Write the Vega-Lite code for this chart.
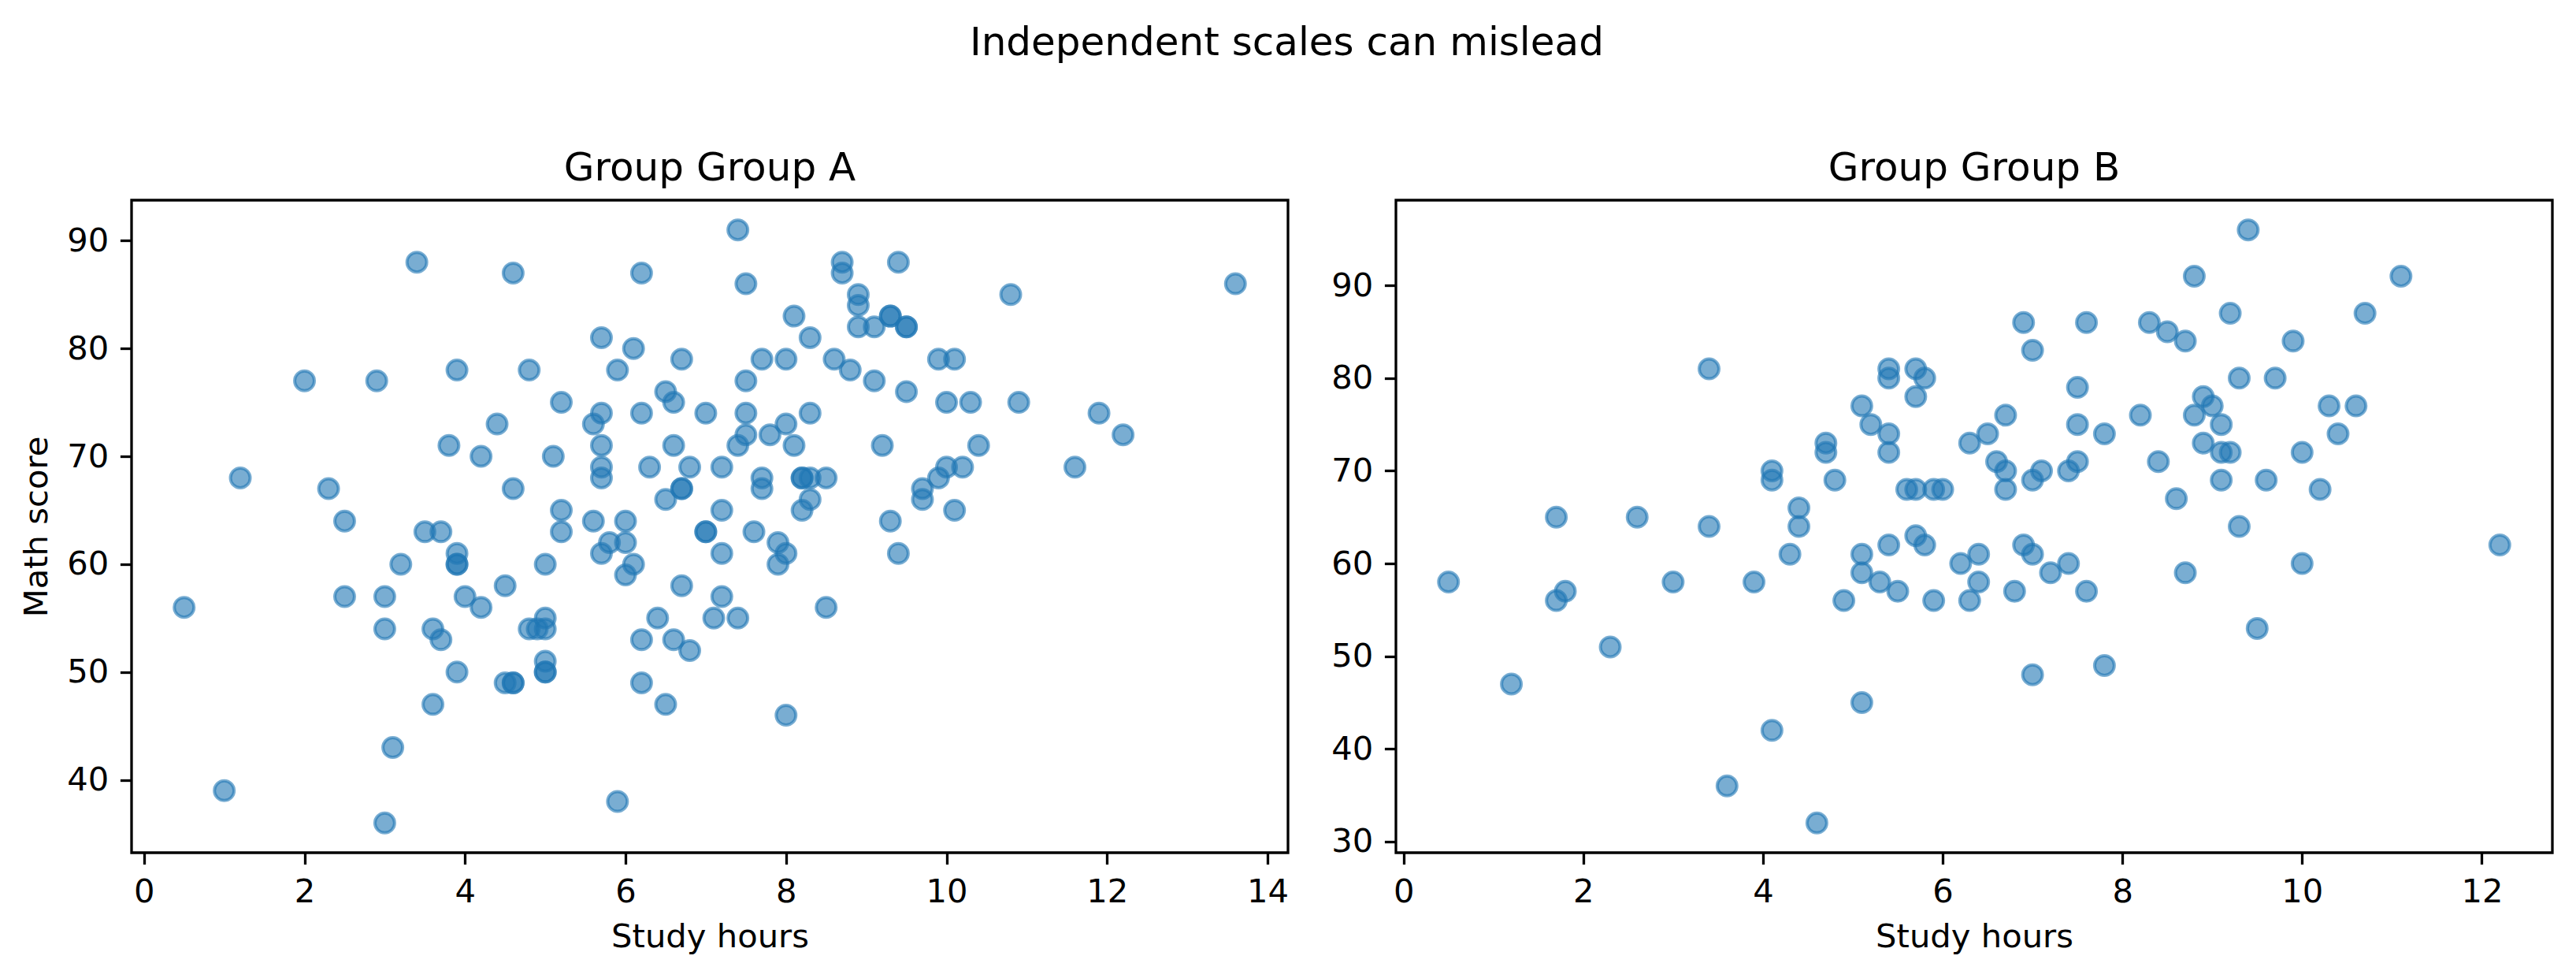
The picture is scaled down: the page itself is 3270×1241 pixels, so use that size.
{
  "$schema": "https://vega.github.io/schema/vega-lite/v6.json",
  "padding": {"left": 25, "top": 30, "right": 24, "bottom": 20},
  "background": "white",
  "title": {"text": "Independent scales can mislead", "anchor": "middle", "frame": "bounds", "offset": 67, "baseline": "alphabetic"},
  "data": {
    "values": [
      {"group": "Group A", "hours": 3.4, "score": 88}, {"group": "Group A", "hours": 4.6, "score": 87}, {"group": "Group A", "hours": 6.2, "score": 87},
      {"group": "Group A", "hours": 5.7, "score": 81}, {"group": "Group A", "hours": 6.1, "score": 80}, {"group": "Group A", "hours": 6.7, "score": 79},
      {"group": "Group A", "hours": 2.0, "score": 77}, {"group": "Group A", "hours": 2.9, "score": 77}, {"group": "Group A", "hours": 3.9, "score": 78},
      {"group": "Group A", "hours": 4.8, "score": 78}, {"group": "Group A", "hours": 5.9, "score": 78}, {"group": "Group A", "hours": 6.5, "score": 76},
      {"group": "Group A", "hours": 6.6, "score": 75}, {"group": "Group A", "hours": 5.2, "score": 75}, {"group": "Group A", "hours": 5.7, "score": 74},
      {"group": "Group A", "hours": 5.6, "score": 73}, {"group": "Group A", "hours": 6.2, "score": 74}, {"group": "Group A", "hours": 7.0, "score": 74},
      {"group": "Group A", "hours": 4.4, "score": 73}, {"group": "Group A", "hours": 3.8, "score": 71}, {"group": "Group A", "hours": 4.2, "score": 70},
      {"group": "Group A", "hours": 5.1, "score": 70}, {"group": "Group A", "hours": 5.7, "score": 71}, {"group": "Group A", "hours": 6.6, "score": 71},
      {"group": "Group A", "hours": 5.7, "score": 69}, {"group": "Group A", "hours": 5.7, "score": 68}, {"group": "Group A", "hours": 6.3, "score": 69},
      {"group": "Group A", "hours": 6.8, "score": 69}, {"group": "Group A", "hours": 6.7, "score": 67}, {"group": "Group A", "hours": 6.7, "score": 67},
      {"group": "Group A", "hours": 6.5, "score": 66}, {"group": "Group A", "hours": 1.2, "score": 68}, {"group": "Group A", "hours": 2.3, "score": 67},
      {"group": "Group A", "hours": 4.6, "score": 67}, {"group": "Group A", "hours": 2.5, "score": 64}, {"group": "Group A", "hours": 5.2, "score": 65},
      {"group": "Group A", "hours": 5.6, "score": 64}, {"group": "Group A", "hours": 6.0, "score": 64}, {"group": "Group A", "hours": 3.5, "score": 63},
      {"group": "Group A", "hours": 3.7, "score": 63}, {"group": "Group A", "hours": 5.2, "score": 63}, {"group": "Group A", "hours": 7.0, "score": 63},
      {"group": "Group A", "hours": 7.0, "score": 63}, {"group": "Group A", "hours": 5.8, "score": 62}, {"group": "Group A", "hours": 6.0, "score": 62},
      {"group": "Group A", "hours": 5.7, "score": 61}, {"group": "Group A", "hours": 3.9, "score": 61}, {"group": "Group A", "hours": 3.9, "score": 60},
      {"group": "Group A", "hours": 3.9, "score": 60}, {"group": "Group A", "hours": 3.2, "score": 60}, {"group": "Group A", "hours": 5.0, "score": 60},
      {"group": "Group A", "hours": 6.1, "score": 60}, {"group": "Group A", "hours": 6.0, "score": 59}, {"group": "Group A", "hours": 6.7, "score": 58},
      {"group": "Group A", "hours": 4.5, "score": 58}, {"group": "Group A", "hours": 2.5, "score": 57}, {"group": "Group A", "hours": 3.0, "score": 57},
      {"group": "Group A", "hours": 4.0, "score": 57}, {"group": "Group A", "hours": 4.2, "score": 56}, {"group": "Group A", "hours": 0.5, "score": 56},
      {"group": "Group A", "hours": 6.4, "score": 55}, {"group": "Group A", "hours": 5.0, "score": 55}, {"group": "Group A", "hours": 3.0, "score": 54},
      {"group": "Group A", "hours": 3.6, "score": 54}, {"group": "Group A", "hours": 3.7, "score": 53}, {"group": "Group A", "hours": 4.8, "score": 54},
      {"group": "Group A", "hours": 4.9, "score": 54}, {"group": "Group A", "hours": 5.0, "score": 54}, {"group": "Group A", "hours": 6.2, "score": 53},
      {"group": "Group A", "hours": 6.6, "score": 53}, {"group": "Group A", "hours": 6.8, "score": 52}, {"group": "Group A", "hours": 5.0, "score": 51},
      {"group": "Group A", "hours": 5.0, "score": 50}, {"group": "Group A", "hours": 5.0, "score": 50}, {"group": "Group A", "hours": 3.9, "score": 50},
      {"group": "Group A", "hours": 4.5, "score": 49}, {"group": "Group A", "hours": 4.6, "score": 49}, {"group": "Group A", "hours": 4.6, "score": 49},
      {"group": "Group A", "hours": 6.2, "score": 49}, {"group": "Group A", "hours": 3.6, "score": 47}, {"group": "Group A", "hours": 6.5, "score": 47},
      {"group": "Group A", "hours": 3.1, "score": 43}, {"group": "Group A", "hours": 1.0, "score": 39}, {"group": "Group A", "hours": 5.9, "score": 38},
      {"group": "Group A", "hours": 3.0, "score": 36}, {"group": "Group A", "hours": 7.4, "score": 91}, {"group": "Group A", "hours": 8.7, "score": 88},
      {"group": "Group A", "hours": 8.7, "score": 87}, {"group": "Group A", "hours": 9.4, "score": 88}, {"group": "Group A", "hours": 7.5, "score": 86},
      {"group": "Group A", "hours": 13.6, "score": 86}, {"group": "Group A", "hours": 10.8, "score": 85}, {"group": "Group A", "hours": 8.9, "score": 85},
      {"group": "Group A", "hours": 8.9, "score": 84}, {"group": "Group A", "hours": 8.1, "score": 83}, {"group": "Group A", "hours": 9.3, "score": 83},
      {"group": "Group A", "hours": 9.3, "score": 83}, {"group": "Group A", "hours": 9.5, "score": 82}, {"group": "Group A", "hours": 9.5, "score": 82},
      {"group": "Group A", "hours": 8.9, "score": 82}, {"group": "Group A", "hours": 9.1, "score": 82}, {"group": "Group A", "hours": 8.3, "score": 81},
      {"group": "Group A", "hours": 7.7, "score": 79}, {"group": "Group A", "hours": 8.0, "score": 79}, {"group": "Group A", "hours": 8.6, "score": 79},
      {"group": "Group A", "hours": 8.8, "score": 78}, {"group": "Group A", "hours": 9.9, "score": 79}, {"group": "Group A", "hours": 10.1, "score": 79},
      {"group": "Group A", "hours": 7.5, "score": 77}, {"group": "Group A", "hours": 9.1, "score": 77}, {"group": "Group A", "hours": 9.5, "score": 76},
      {"group": "Group A", "hours": 10.0, "score": 75}, {"group": "Group A", "hours": 10.3, "score": 75}, {"group": "Group A", "hours": 10.9, "score": 75},
      {"group": "Group A", "hours": 7.5, "score": 74}, {"group": "Group A", "hours": 8.3, "score": 74}, {"group": "Group A", "hours": 11.9, "score": 74},
      {"group": "Group A", "hours": 8.0, "score": 73}, {"group": "Group A", "hours": 7.5, "score": 72}, {"group": "Group A", "hours": 7.4, "score": 71},
      {"group": "Group A", "hours": 7.8, "score": 72}, {"group": "Group A", "hours": 8.1, "score": 71}, {"group": "Group A", "hours": 12.2, "score": 72},
      {"group": "Group A", "hours": 9.2, "score": 71}, {"group": "Group A", "hours": 10.4, "score": 71}, {"group": "Group A", "hours": 7.2, "score": 69},
      {"group": "Group A", "hours": 7.7, "score": 68}, {"group": "Group A", "hours": 7.7, "score": 67}, {"group": "Group A", "hours": 8.2, "score": 68},
      {"group": "Group A", "hours": 8.2, "score": 68}, {"group": "Group A", "hours": 8.3, "score": 68}, {"group": "Group A", "hours": 8.5, "score": 68},
      {"group": "Group A", "hours": 10.0, "score": 69}, {"group": "Group A", "hours": 10.2, "score": 69}, {"group": "Group A", "hours": 9.9, "score": 68},
      {"group": "Group A", "hours": 9.7, "score": 67}, {"group": "Group A", "hours": 9.7, "score": 66}, {"group": "Group A", "hours": 11.6, "score": 69},
      {"group": "Group A", "hours": 7.2, "score": 65}, {"group": "Group A", "hours": 8.3, "score": 66}, {"group": "Group A", "hours": 8.2, "score": 65},
      {"group": "Group A", "hours": 10.1, "score": 65}, {"group": "Group A", "hours": 9.3, "score": 64}, {"group": "Group A", "hours": 7.6, "score": 63},
      {"group": "Group A", "hours": 7.9, "score": 62}, {"group": "Group A", "hours": 7.2, "score": 61}, {"group": "Group A", "hours": 8.0, "score": 61},
      {"group": "Group A", "hours": 7.9, "score": 60}, {"group": "Group A", "hours": 9.4, "score": 61}, {"group": "Group A", "hours": 7.2, "score": 57},
      {"group": "Group A", "hours": 7.1, "score": 55}, {"group": "Group A", "hours": 7.4, "score": 55}, {"group": "Group A", "hours": 8.5, "score": 56},
      {"group": "Group A", "hours": 8.0, "score": 46},
      {"group": "Group B", "hours": 3.4, "score": 81}, {"group": "Group B", "hours": 5.4, "score": 81}, {"group": "Group B", "hours": 5.4, "score": 80},
      {"group": "Group B", "hours": 5.7, "score": 81}, {"group": "Group B", "hours": 5.8, "score": 80}, {"group": "Group B", "hours": 5.7, "score": 78},
      {"group": "Group B", "hours": 5.1, "score": 77}, {"group": "Group B", "hours": 5.2, "score": 75}, {"group": "Group B", "hours": 5.4, "score": 74},
      {"group": "Group B", "hours": 4.7, "score": 73}, {"group": "Group B", "hours": 4.7, "score": 72}, {"group": "Group B", "hours": 5.4, "score": 72},
      {"group": "Group B", "hours": 6.3, "score": 73}, {"group": "Group B", "hours": 4.1, "score": 70}, {"group": "Group B", "hours": 4.1, "score": 69},
      {"group": "Group B", "hours": 4.8, "score": 69}, {"group": "Group B", "hours": 5.6, "score": 68}, {"group": "Group B", "hours": 5.7, "score": 68},
      {"group": "Group B", "hours": 5.9, "score": 68}, {"group": "Group B", "hours": 6.0, "score": 68}, {"group": "Group B", "hours": 1.7, "score": 65},
      {"group": "Group B", "hours": 2.6, "score": 65}, {"group": "Group B", "hours": 3.4, "score": 64}, {"group": "Group B", "hours": 4.4, "score": 66},
      {"group": "Group B", "hours": 4.4, "score": 64}, {"group": "Group B", "hours": 4.3, "score": 61}, {"group": "Group B", "hours": 5.1, "score": 61},
      {"group": "Group B", "hours": 5.1, "score": 59}, {"group": "Group B", "hours": 5.4, "score": 62}, {"group": "Group B", "hours": 5.7, "score": 63},
      {"group": "Group B", "hours": 5.8, "score": 62}, {"group": "Group B", "hours": 6.2, "score": 60}, {"group": "Group B", "hours": 0.5, "score": 58},
      {"group": "Group B", "hours": 1.8, "score": 57}, {"group": "Group B", "hours": 1.7, "score": 56}, {"group": "Group B", "hours": 3.0, "score": 58},
      {"group": "Group B", "hours": 3.9, "score": 58}, {"group": "Group B", "hours": 4.9, "score": 56}, {"group": "Group B", "hours": 5.3, "score": 58},
      {"group": "Group B", "hours": 5.5, "score": 57}, {"group": "Group B", "hours": 5.9, "score": 56}, {"group": "Group B", "hours": 6.3, "score": 56},
      {"group": "Group B", "hours": 6.4, "score": 58}, {"group": "Group B", "hours": 2.3, "score": 51}, {"group": "Group B", "hours": 1.2, "score": 47},
      {"group": "Group B", "hours": 5.1, "score": 45}, {"group": "Group B", "hours": 4.1, "score": 42}, {"group": "Group B", "hours": 3.6, "score": 36},
      {"group": "Group B", "hours": 4.6, "score": 32}, {"group": "Group B", "hours": 6.4, "score": 61}, {"group": "Group B", "hours": 6.9, "score": 62},
      {"group": "Group B", "hours": 7.0, "score": 61}, {"group": "Group B", "hours": 6.8, "score": 57}, {"group": "Group B", "hours": 7.2, "score": 59},
      {"group": "Group B", "hours": 7.4, "score": 60}, {"group": "Group B", "hours": 7.6, "score": 57}, {"group": "Group B", "hours": 9.3, "score": 64},
      {"group": "Group B", "hours": 8.7, "score": 59}, {"group": "Group B", "hours": 10.0, "score": 60}, {"group": "Group B", "hours": 12.2, "score": 62},
      {"group": "Group B", "hours": 9.5, "score": 53}, {"group": "Group B", "hours": 7.8, "score": 49}, {"group": "Group B", "hours": 7.0, "score": 48},
      {"group": "Group B", "hours": 9.4, "score": 96}, {"group": "Group B", "hours": 8.8, "score": 91}, {"group": "Group B", "hours": 11.1, "score": 91},
      {"group": "Group B", "hours": 9.2, "score": 87}, {"group": "Group B", "hours": 10.7, "score": 87}, {"group": "Group B", "hours": 6.9, "score": 86},
      {"group": "Group B", "hours": 7.6, "score": 86}, {"group": "Group B", "hours": 8.3, "score": 86}, {"group": "Group B", "hours": 8.5, "score": 85},
      {"group": "Group B", "hours": 8.7, "score": 84}, {"group": "Group B", "hours": 9.9, "score": 84}, {"group": "Group B", "hours": 7.0, "score": 83},
      {"group": "Group B", "hours": 9.3, "score": 80}, {"group": "Group B", "hours": 9.7, "score": 80}, {"group": "Group B", "hours": 7.5, "score": 79},
      {"group": "Group B", "hours": 8.9, "score": 78}, {"group": "Group B", "hours": 9.0, "score": 77}, {"group": "Group B", "hours": 8.8, "score": 76},
      {"group": "Group B", "hours": 6.7, "score": 76}, {"group": "Group B", "hours": 6.5, "score": 74}, {"group": "Group B", "hours": 7.5, "score": 75},
      {"group": "Group B", "hours": 7.8, "score": 74}, {"group": "Group B", "hours": 8.2, "score": 76}, {"group": "Group B", "hours": 9.1, "score": 75},
      {"group": "Group B", "hours": 10.3, "score": 77}, {"group": "Group B", "hours": 10.6, "score": 77}, {"group": "Group B", "hours": 10.4, "score": 74},
      {"group": "Group B", "hours": 8.9, "score": 73}, {"group": "Group B", "hours": 9.1, "score": 72}, {"group": "Group B", "hours": 9.2, "score": 72},
      {"group": "Group B", "hours": 10.0, "score": 72}, {"group": "Group B", "hours": 6.6, "score": 71}, {"group": "Group B", "hours": 6.7, "score": 70},
      {"group": "Group B", "hours": 6.7, "score": 68}, {"group": "Group B", "hours": 7.0, "score": 69}, {"group": "Group B", "hours": 7.1, "score": 70},
      {"group": "Group B", "hours": 7.4, "score": 70}, {"group": "Group B", "hours": 7.5, "score": 71}, {"group": "Group B", "hours": 8.4, "score": 71},
      {"group": "Group B", "hours": 9.1, "score": 69}, {"group": "Group B", "hours": 9.6, "score": 69}, {"group": "Group B", "hours": 10.2, "score": 68},
      {"group": "Group B", "hours": 8.6, "score": 67}
    ]
  },
  "spacing": 50,
  "hconcat": [
    {
      "title": {"text": "Group Group A", "frame": "group", "anchor": "middle", "offset": -25, "baseline": "alphabetic"},
      "width": 1468,
      "height": 828,
      "transform": [{"filter": "datum.group === 'Group A'"}],
      "mark": {"type": "point", "shape": "circle", "size": 625, "opacity": 1, "fill": "#1f77b4", "fillOpacity": 0.6, "stroke": "#1f77b4", "strokeOpacity": 0.6, "strokeWidth": 4},
      "encoding": {
        "x": {"field": "hours", "type": "quantitative", "title": "Study hours",
              "scale": {"domain": [-0.155, 14.255], "nice": false, "zero": false},
              "axis": {"values": [0, 2, 4, 6, 8, 10, 12, 14]}},
        "y": {"field": "score", "type": "quantitative", "title": "Math score",
              "scale": {"domain": [33.25, 93.75], "nice": false, "zero": false},
              "axis": {"values": [40, 50, 60, 70, 80, 90]}}
      }
    },
    {
      "title": {"text": "Group Group B", "frame": "group", "anchor": "middle", "offset": -25, "baseline": "alphabetic"},
      "width": 1468,
      "height": 828,
      "transform": [{"filter": "datum.group === 'Group B'"}],
      "mark": {"type": "point", "shape": "circle", "size": 625, "opacity": 1, "fill": "#1f77b4", "fillOpacity": 0.6, "stroke": "#1f77b4", "strokeOpacity": 0.6, "strokeWidth": 4},
      "encoding": {
        "x": {"field": "hours", "type": "quantitative", "title": "Study hours",
              "scale": {"domain": [-0.085, 12.785], "nice": false, "zero": false},
              "axis": {"values": [0, 2, 4, 6, 8, 10, 12]}},
        "y": {"field": "score", "type": "quantitative", "title": null,
              "scale": {"domain": [28.8, 99.2], "nice": false, "zero": false},
              "axis": {"values": [30, 40, 50, 60, 70, 80, 90]}}
      }
    }
  ],
  "config": {
    "font": "DejaVu Sans",
    "view": {"stroke": "black", "strokeWidth": 3.3},
    "axis": {
      "grid": false, "domain": false,
      "tickColor": "black", "tickWidth": 3.3, "tickSize": 14.6,
      "labelFont": "DejaVu Sans", "labelFontSize": 41.7, "labelColor": "black", "labelPadding": 14.6,
      "titleFont": "DejaVu Sans", "titleFontSize": 41.7, "titleFontWeight": "normal", "titleColor": "black", "titlePadding": 16
    },
    "title": {"font": "DejaVu Sans", "fontSize": 50, "fontWeight": "normal", "color": "black"}
  }
}
